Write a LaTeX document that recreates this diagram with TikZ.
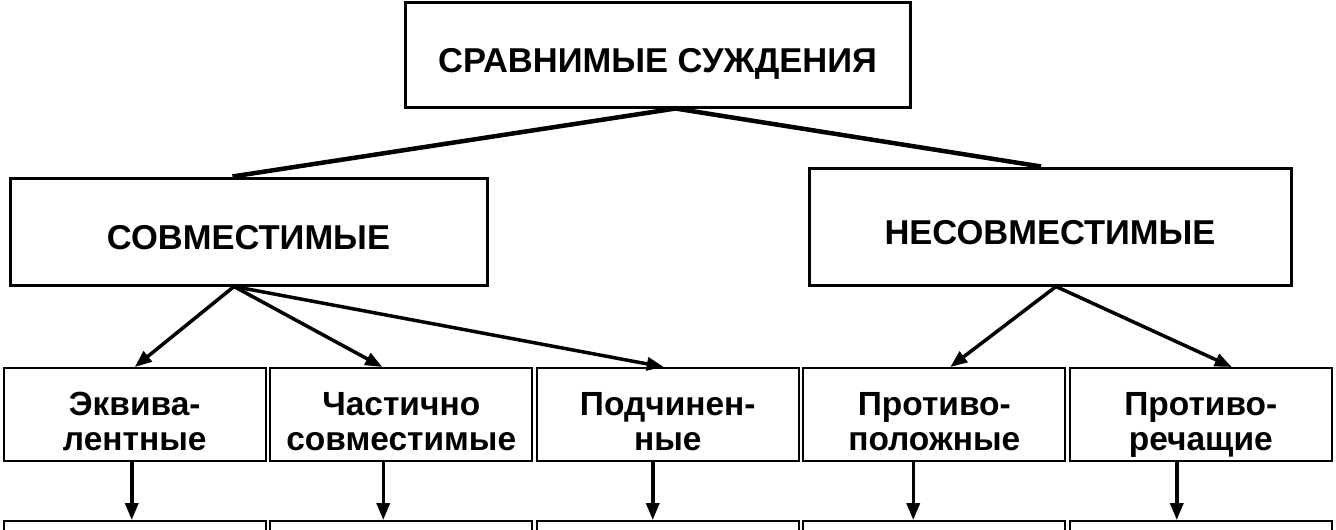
\documentclass[tikz,border=0pt]{standalone}
\usepackage{fontspec}
\setmainfont{Liberation Sans}
\usetikzlibrary{arrows.meta}
\tikzset{
  head box/.style={
    rectangle,
    draw=black,
    line width=3pt,
    minimum height=#1,
    align=center,
    inner sep=0pt,
    text height=36pt,
    text depth=0pt,
    font=\bfseries\fontsize{34.5}{38}\selectfont
  },
  head box/.default=105pt,
  kind box/.style={
    rectangle,
    draw=black,
    line width=2pt,
    minimum width=262pt,
    minimum height=#1,
    anchor=center,
    inner sep=0pt
  },
  kind box/.default=93pt,
  kind text/.style={
    anchor=north,
    align=center,
    inner sep=0pt,
    font=\bfseries\fontsize{33.5}{35}\selectfont
  },
  link/.style={line width=4.5pt},
  down/.style={line width=3.5pt, -{Triangle[length=17pt,width=13pt]}}
}

\begin{document}
\begin{tikzpicture}[x=1pt,y=-1pt]
\useasboundingbox (0,0) rectangle (1336,530);
\node[head box,minimum width=505pt] (root) at (657.5,54.5) {СРАВНИМЫЕ СУЖДЕНИЯ};
\node[head box=107pt,minimum width=477pt] (comp) at (248.5,231.5) {СОВМЕСТИМЫЕ};
\node[head box=117pt,minimum width=482pt] (incomp) at (1050,226.5) {НЕСОВМЕСТИМЫЕ};
% the five kinds and the row below them
\foreach \i/\t in {1/{Эквива-\\лентные},2/{Частично\\совместимые},3/{Подчинен-\\ные},
                   4/{Противо-\\положные},5/{Противо-\\речащие}}
{
  \node[kind box] (kind-\i) at (134.75+266.5*\i-266.5,414.5) {};
  \node[kind text] (kind-\i-text) at ([yshift=-25pt]kind-\i.north) {\t};
  \node[kind box=100pt] (next-\i) at (134.75+266.5*\i-266.5,571) {};
}
% links between the heads
\draw[link] ([xshift=18pt]root.south) -- ([xshift=-16pt]comp.north);
\draw[link] ([xshift=18pt]root.south) -- ([xshift=-9pt]incomp.north);
% kinds of judgements
\draw[down] ([xshift=-14.5pt]comp.south) -- (kind-1.north);
\draw[down] ([xshift=-14.5pt]comp.south) -- ([xshift=-19pt]kind-2.north);
\draw[down] ([xshift=-14.5pt]comp.south) -- ([xshift=-4pt]kind-3.north);
\draw[down] ([xshift=6pt]incomp.south) -- ([xshift=16pt]kind-4.north);
\draw[down] ([xshift=6pt]incomp.south) -- ([xshift=31pt]kind-5.north);
\foreach \i/\s in {1/-3,2/-18,3/-15,4/-21,5/-24}
  \draw[down] ([xshift=\s pt]kind-\i.south) -- ([xshift=\s pt]next-\i.north);
\end{tikzpicture}
\end{document}
